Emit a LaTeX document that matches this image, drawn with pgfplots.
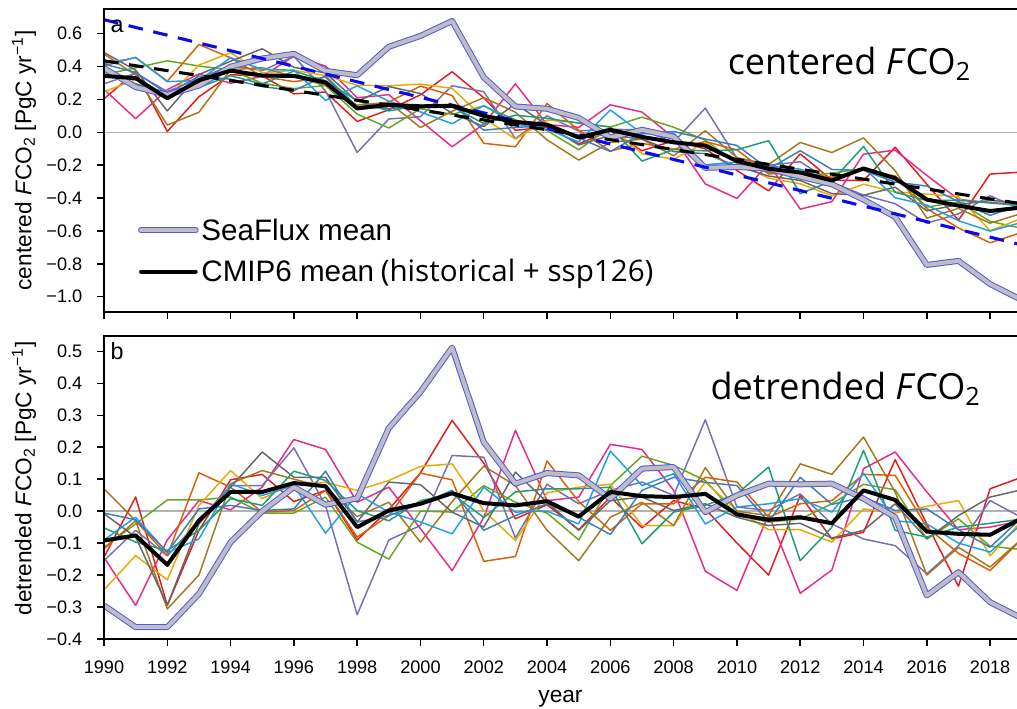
\documentclass[border=0pt]{standalone}
\usepackage{pgfplots}
\usepackage{pgfplotstable}
\pgfplotsset{compat=1.18}
\usepackage{fontspec}
\setmainfont{Liberation Sans}
\newfontfamily\opensans{Open Sans}

\definecolor{mred}{RGB}{228,26,28}
\definecolor{mpink}{RGB}{231,41,138}
\definecolor{mpurple}{RGB}{117,112,179}
\definecolor{mgreen}{RGB}{102,166,30}
\definecolor{morange}{RGB}{217,95,2}
\definecolor{mgold}{RGB}{230,171,2}
\definecolor{mbrown}{RGB}{166,118,29}
\definecolor{mgray}{RGB}{102,102,102}
\definecolor{mteal}{RGB}{27,158,119}
\definecolor{mlblue}{RGB}{30,160,230}
\definecolor{msblue}{RGB}{60,125,190}
\definecolor{sfblue}{RGB}{85,85,235}
\definecolor{sfgray}{RGB}{190,190,190}
\definecolor{trendblue}{RGB}{10,10,240}

% centered FCO2 (PgC/yr)
\pgfplotstableread{
year  red    pink   purple green  orange gold   brown  gray   teal   lblue  sblue  seaflux mean
1990  0.204  0.261  0.295  0.351  0.404  0.247  0.476  0.485  0.369  0.418  0.415  0.390  0.343
1991  0.368  0.083  0.359  0.392  0.456  0.320  0.348  0.378  0.295  0.454  0.365  0.275  0.329
1992  0.005  0.260  0.248  0.435  0.311  0.210  0.044  0.130  0.240  0.308  0.235  0.228  0.207
1993  0.216  0.355  0.327  0.403  0.534  0.409  0.122  0.351  0.274  0.316  0.341  0.284  0.316
1994  0.350  0.298  0.406  0.380  0.453  0.484  0.380  0.432  0.344  0.454  0.323  0.399  0.375
1995  0.343  0.341  0.375  0.298  0.339  0.362  0.393  0.508  0.294  0.382  0.278  0.449  0.345
1996  0.234  0.462  0.462  0.266  0.308  0.377  0.338  0.395  0.372  0.378  0.254  0.477  0.343
1997  0.245  0.403  0.251  0.284  0.335  0.345  0.285  0.361  0.314  0.194  0.343  0.374  0.303
1998  0.066  0.210 -0.123  0.111  0.153  0.286  0.165  0.187  0.191  0.282  0.155  0.347  0.145
1999  0.137  0.229  0.081  0.026  0.184  0.283  0.182  0.278  0.130  0.190  0.146  0.520  0.167
2000  0.228  0.071  0.095  0.144  0.281  0.293  0.029  0.236  0.164  0.124  0.154  0.586  0.158
2001  0.368 -0.088  0.283  0.109  0.224  0.267  0.128  0.116  0.156  0.052  0.167  0.677  0.161
2002  0.210  0.050  0.247  0.160 -0.067  0.087  0.211  0.035  0.053  0.163  0.013  0.334  0.100
2003  0.012  0.295 -0.038  0.076 -0.088 -0.041  0.122  0.173  0.104  0.050  0.030  0.157  0.063
2004  0.032  0.047  0.100  0.010  0.175  0.074 -0.046  0.045  0.085  0.018  0.038  0.143  0.046
2005 -0.070  0.030  0.008 -0.106  0.012  0.058 -0.169 -0.077  0.056 -0.058 -0.034  0.088 -0.032
2006  0.008  0.167  0.019  0.032 -0.114  0.033 -0.061 -0.018  0.032  0.136 -0.117 -0.032  0.015
2007 -0.112  0.123  0.014  0.092 -0.067 -0.130 -0.042 -0.041 -0.175 -0.008 -0.008  0.015 -0.028
2008 -0.051 -0.033 -0.060  0.031 -0.103 -0.164 -0.143 -0.117 -0.105 -0.006  0.005 -0.027 -0.061
2009 -0.101 -0.314  0.147 -0.048 -0.056 -0.062  0.010 -0.130 -0.113 -0.198 -0.041 -0.216 -0.081
2010 -0.232 -0.402 -0.158 -0.190 -0.107 -0.185 -0.154 -0.206 -0.106 -0.180 -0.080 -0.211 -0.175
2011 -0.356 -0.192 -0.200 -0.242 -0.253 -0.279 -0.196 -0.266 -0.051 -0.205 -0.223 -0.221 -0.222
2012 -0.131 -0.467 -0.179 -0.265 -0.247 -0.313 -0.062 -0.293 -0.373 -0.224 -0.112 -0.270 -0.244
2013 -0.291 -0.422 -0.304 -0.249 -0.273 -0.386 -0.123 -0.373 -0.297 -0.301 -0.226 -0.316 -0.293
2014 -0.294 -0.133 -0.382 -0.220 -0.227 -0.316 -0.034 -0.383 -0.086 -0.214 -0.232 -0.410 -0.220
2015 -0.091 -0.109 -0.434 -0.269 -0.266 -0.363 -0.234 -0.334 -0.365 -0.398 -0.303 -0.515 -0.280
2016 -0.316 -0.262 -0.553 -0.455 -0.464 -0.376 -0.522 -0.478 -0.415 -0.443 -0.327 -0.807 -0.409
2017 -0.535 -0.408 -0.496 -0.424 -0.582 -0.392 -0.463 -0.439 -0.413 -0.538 -0.421 -0.782 -0.446
2018 -0.254 -0.428 -0.386 -0.542 -0.672 -0.599 -0.553 -0.415 -0.430 -0.601 -0.505 -0.923 -0.479
2019 -0.242 -0.436 -0.470 -0.584 -0.609 -0.523 -0.493 -0.426 -0.446 -0.548 -0.441 -1.020 -0.457
}\centered

% detrended FCO2 (PgC/yr)
\pgfplotstableread{
year  red    pink   purple green  orange gold   brown  gray   teal   lblue  sblue  seaflux mean
1990 -0.144 -0.145 -0.155 -0.113 -0.118 -0.246  0.070 -0.008 -0.052 -0.090 -0.006 -0.295 -0.092
1991  0.044 -0.295 -0.060 -0.040 -0.030 -0.139 -0.030 -0.081 -0.097 -0.019 -0.027 -0.363 -0.076
1992 -0.295 -0.090 -0.140  0.035 -0.139 -0.215 -0.306 -0.295 -0.123 -0.130 -0.128 -0.363 -0.168
1993 -0.060  0.033 -0.030  0.035  0.120  0.018 -0.200 -0.040 -0.060 -0.087  0.007 -0.259 -0.029
1994  0.098  0.004  0.080  0.044  0.075  0.127  0.086  0.075  0.039  0.086  0.018 -0.097  0.060
1995  0.115  0.075  0.080 -0.006 -0.003  0.039  0.127  0.185  0.018  0.049  0.002  0.000  0.060
1996  0.030  0.224  0.198 -0.006  0.002  0.088  0.100  0.106  0.125  0.080  0.007  0.075  0.088
1997  0.065  0.193  0.018  0.044  0.065  0.090  0.075  0.106  0.096 -0.069  0.125  0.020  0.078
1998 -0.090  0.028 -0.324 -0.097 -0.081  0.065 -0.017 -0.034  0.002  0.054 -0.034  0.040 -0.050
1999  0.005  0.075 -0.090 -0.150 -0.014  0.096  0.028  0.091 -0.030 -0.003 -0.014  0.260  0.002
2000  0.120 -0.055 -0.045  0.000  0.119  0.140 -0.097  0.083  0.033 -0.034  0.023  0.373  0.023
2001  0.284 -0.186  0.174 -0.003  0.098  0.148  0.030 -0.003  0.054 -0.071  0.065  0.512  0.056
2002  0.150 -0.020  0.169  0.080 -0.157  0.002  0.141 -0.050 -0.020  0.075 -0.060  0.216  0.025
2003 -0.024  0.253 -0.084  0.028 -0.142 -0.092  0.080  0.122  0.060 -0.003 -0.014  0.086  0.018
2004  0.020  0.033  0.084 -0.006  0.157  0.057 -0.060  0.028  0.070  0.000  0.023  0.119  0.031
2005 -0.058  0.044  0.023 -0.090  0.030  0.075 -0.155 -0.060  0.070 -0.040 -0.019  0.112 -0.017
2006  0.044  0.209  0.065  0.080 -0.060  0.084 -0.019  0.033  0.075  0.188 -0.073  0.039  0.060
2007 -0.052  0.193  0.091  0.172  0.023 -0.045  0.028  0.044 -0.102  0.080  0.065  0.133  0.047
2008  0.033  0.065  0.049  0.143  0.023 -0.045 -0.045  0.002 -0.003  0.117  0.106  0.138  0.044
2009  0.007 -0.188  0.286  0.096  0.106  0.091  0.136  0.023  0.018 -0.040  0.090 -0.003  0.054
2010 -0.100 -0.248  0.013 -0.014  0.091  0.002  0.000 -0.019  0.054  0.013  0.080  0.049 -0.010
2011 -0.200 -0.010  0.002 -0.034 -0.019 -0.058 -0.014 -0.045  0.138  0.023 -0.034  0.086 -0.027
2012  0.049 -0.257  0.054 -0.025  0.023 -0.058  0.148 -0.038 -0.155  0.039  0.106  0.084 -0.019
2013 -0.087 -0.184 -0.040  0.023  0.033 -0.097  0.115 -0.084 -0.050 -0.003  0.021  0.086 -0.038
2014 -0.066  0.133 -0.087  0.084  0.115  0.007  0.232 -0.060  0.190  0.119  0.044  0.039  0.065
2015  0.161  0.185 -0.108  0.067  0.112 -0.006  0.060  0.023 -0.060 -0.030  0.002 -0.019  0.035
2016 -0.040  0.060 -0.196 -0.087 -0.050  0.015 -0.200 -0.087 -0.081 -0.040  0.007 -0.264 -0.064
2017 -0.235 -0.058 -0.108 -0.024 -0.132  0.033 -0.113 -0.014 -0.050 -0.100 -0.058 -0.191 -0.071
2018  0.070 -0.050  0.033 -0.110 -0.186 -0.140 -0.175  0.044 -0.038 -0.128 -0.113 -0.285 -0.074
2019  0.106 -0.030 -0.020 -0.120 -0.087 -0.030 -0.087  0.067 -0.025 -0.040 -0.020 -0.335 -0.022
}\detrended

\pgfplotsset{
  panel/.style={
    scale only axis, width=684.75pt, height=227.25pt,
    xmin=1990, xmax=2018.85,
    xtick={1990,1992,...,2018},
    tick align=outside, xtick pos=left, ytick pos=left,
    major tick length=5.25pt,
    major tick style={black, line width=1.1pt},
    % frame on the left, top and bottom only (the right side stays open)
    axis line style={draw=none},
    after end axis/.code={%
      \draw[black, line width=1.3pt, line join=miter]
        (rel axis cs:1,1) -- (rel axis cs:0,1) -- (rel axis cs:0,0) -- (rel axis cs:1,0);},
    ticklabel style={font=\fontsize{13.6}{15}\selectfont},
    yticklabel style={xshift=-7.5pt},
    xticklabel style={yshift=-7.5pt},
    label style={font=\fontsize{17}{19}\selectfont},
    clip=true,
    legend image code/.code={\draw[#1, line cap=round] (0pt,0pt) -- (41pt,0pt);},
  },
  model/.style={line width=1.1pt, line join=round, forget plot},
  sflux/.style={draw=sfblue, double=sfgray, double distance=3pt, line width=0.75pt, line join=round},
  cmean/.style={black, line width=3pt, line join=round},
}

\newcommand{\drawmodels}[1]{%
  \addplot[model, mred]    table[x=year, y=red]    {#1};
  \addplot[model, mpink]   table[x=year, y=pink]   {#1};
  \addplot[model, mpurple] table[x=year, y=purple] {#1};
  \addplot[model, mgreen]  table[x=year, y=green]  {#1};
  \addplot[model, morange] table[x=year, y=orange] {#1};
  \addplot[model, mgold]   table[x=year, y=gold]   {#1};
  \addplot[model, mbrown]  table[x=year, y=brown]  {#1};
  \addplot[model, mgray]   table[x=year, y=gray]   {#1};
  \addplot[model, mteal]   table[x=year, y=teal]   {#1};
  \addplot[model, mlblue]  table[x=year, y=lblue]  {#1};
  \addplot[model, msblue]  table[x=year, y=sblue]  {#1};
}

\begin{document}
\begin{tikzpicture}

% panel a: centered flux
\begin{axis}[panel,
  at={(0pt,245.25pt)}, anchor=south west,
  ymin=-1.093, ymax=0.75,
  ytick={-1,-0.8,-0.6,-0.4,-0.2,0,0.2,0.4,0.6},
  yticklabels={−1.0,−0.8,−0.6,−0.4,−0.2,0.0,0.2,0.4,0.6},
  xticklabels={},
  ylabel={centered \textit{F}CO\textsubscript{2} [PgC yr\textsuperscript{−1}]},
  ylabel style={at={(axis description cs:-0.0876,0.5)}, anchor=center},
  legend cell align=left,
  legend style={at={(rel axis cs:0.037,0.318)}, anchor=north west,
    draw=none, fill=none, font=\fontsize{22.2}{25}\selectfont,
    row sep=9pt, inner sep=0pt},
]
\addplot[forget plot, color=black!30, line width=0.8pt] coordinates {(1990,0) (2019,0)};
\drawmodels{\centered}
\addplot[sflux] table[x=year, y=seaflux] {\centered};
\addlegendentry{SeaFlux mean}
\addplot[forget plot, trendblue, line width=2.3pt, dash pattern=on 11pt off 8pt] coordinates {(1990,0.685) (2019,-0.685)};
\addplot[forget plot, black, line width=2.3pt, dash pattern=on 11pt off 8pt] coordinates {(1990,0.435) (2019,-0.435)};
\addplot[cmean] table[x=year, y=mean] {\centered};
\addlegendentry{CMIP6 mean\hspace{5pt}{\opensans (historical + ssp126)}}
\node[anchor=base west, inner sep=0pt, font=\fontsize{17.5}{19}\selectfont] at (rel axis cs:0.007,0.922) {a};
\node[anchor=base west, inner sep=0pt, font=\opensans\fontsize{27}{30}\selectfont] at (rel axis cs:0.683,0.785) {centered \textit{F}CO\textsubscript{2}};
\end{axis}

% panel b: detrended flux
\begin{axis}[panel,
  at={(0pt,0pt)}, anchor=south west,
  ymin=-0.4, ymax=0.548,
  ytick={-0.4,-0.3,-0.2,-0.1,0,0.1,0.2,0.3,0.4,0.5},
  yticklabels={−0.4,−0.3,−0.2,−0.1,0.0,0.1,0.2,0.3,0.4,0.5},
  xticklabels={1990,1992,1994,1996,1998,2000,2002,2004,2006,2008,2010,2012,2014,2016,2018},
  xlabel={year},
  xlabel style={at={(axis description cs:0.5,-0.208)}, anchor=base},
  ylabel={detrended \textit{F}CO\textsubscript{2} [PgC yr\textsuperscript{−1}]},
  ylabel style={at={(axis description cs:-0.0876,0.53)}, anchor=center},
]
\addplot[forget plot, color=black!30, line width=1.5pt] coordinates {(1990,0) (2019,0)};
\drawmodels{\detrended}
\addplot[sflux, forget plot] table[x=year, y=seaflux] {\detrended};
\addplot[cmean, forget plot] table[x=year, y=mean] {\detrended};
\node[anchor=base west, inner sep=0pt, font=\fontsize{17.5}{19}\selectfont] at (rel axis cs:0.007,0.923) {b};
\node[anchor=base west, inner sep=0pt, font=\opensans\fontsize{27}{30}\selectfont] at (rel axis cs:0.664,0.792) {detrended \textit{F}CO\textsubscript{2}};
\end{axis}

\pgfresetboundingbox
\path[use as bounding box] (-78pt,-52.5pt) rectangle (684.75pt,479.25pt);
\end{tikzpicture}
\end{document}
